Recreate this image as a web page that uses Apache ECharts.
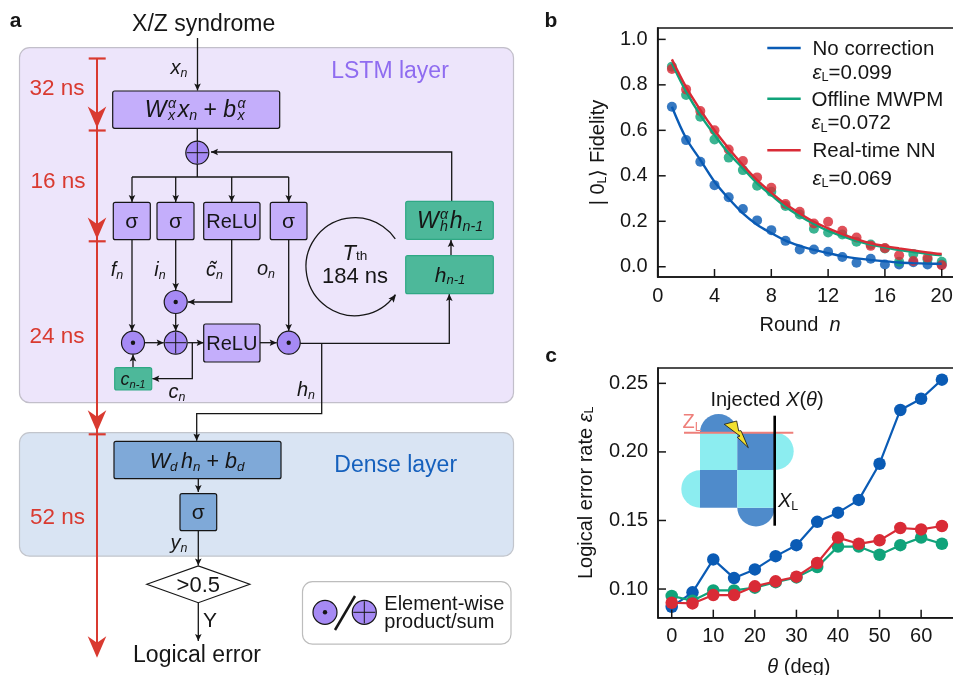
<!DOCTYPE html>
<html>
<head>
<meta charset="utf-8">
<style>html,body{margin:0;padding:0;background:#fff}#main{width:953px;height:675px}</style>
<script src="https://cdn.jsdelivr.net/npm/echarts@6/dist/echarts.min.js"></script>
</head>
<body>
<div id="main"></div>
<script>
// panel b
var rounds = [1,2,3,4,5,6,7,8,9,10,11,12,13,14,15,16,17,18,19,20];
var noCorrDots = [.704,.557,.462,.359,.306,.254,.204,.161,.114,.076,.076,.066,.043,.018,.035,.010,.010,.020,.010,.010];
var mwpmDots = [.88,.755,.66,.56,.48,.425,.356,.33,.267,.23,.167,.151,.142,.11,.098,.08,.022,.056,.032,.022];
var nnDots = [.87,.78,.685,.60,.516,.465,.393,.347,.276,.242,.19,.198,.158,.129,.092,.082,.051,.025,.04,.007];
var noCorrFit = [.704,.565,.47,.374,.30,.235,.185,.148,.115,.092,.074,.06,.047,.037,.03,.024,.019,.016,.014,.013];
var mwpmFit = [.895,.77,.667,.58,.499,.433,.367,.315,.264,.223,.188,.158,.135,.114,.098,.085,.073,.065,.057,.05];
var nnFit = [.912,.79,.69,.60,.52,.447,.381,.326,.276,.235,.198,.169,.144,.122,.103,.091,.081,.072,.063,.056];
var roundTicks = [0,4,8,12,16,20];
var fidelityTicks = [0,.2,.4,.6,.8,1];

// panel c
var angles = [0,5,10,15,20,25,30,35,40,45,50,55,60,65];
var noCorrErr = [.087,.0976,.1216,.108,.1143,.124,.132,.149,.1557,.165,.1914,.2306,.2388,.2527];
var mwpmErr = [.095,.0915,.099,.099,.101,.105,.1085,.116,.131,.131,.125,.132,.1375,.133];
var nnErr = [.090,.0895,.0956,.0956,.102,.1056,.109,.119,.1375,.133,.1355,.1445,.1435,.146];
var angleTicks = [0,10,20,30,40,50,60];
var errTicks = [.10,.15,.20,.25];

var BLUE = '#0A5BB5', GREEN = '#10A37A', RED = '#D92B36';
var FONT = '"Liberation Sans", Arial, sans-serif';
var INK = '#161616';
var ARROW_RED = '#D93A30';

var measure = document.createElement('canvas').getContext('2d');

function pairs(xs, ys) {
  return xs.map(function (x, i) { return [x, ys[i]]; });
}

// text made of pieces: normal '', italic 'i', italic sub 'b', upright sub 's', italic sup 'p'
// 'z' is an italic sub that doesn't advance, so a sup can sit over it; 't' is small upright on the baseline
function label(x, y, parts, size, opts) {
  opts = opts || {};
  var color = opts.color || INK;
  var pieces = [], w = 0;
  parts.forEach(function (p) {
    var kind = p[1] || '';
    var small = kind !== '' && kind !== 'i';
    var fs = small ? size * .62 : size;
    var italic = kind !== '' && kind !== 's' && kind !== 't';
    var font = (italic ? 'italic ' : '') + (opts.bold ? 'bold ' : '') + fs + 'px ' + FONT;
    measure.font = font;
    var pw = measure.measureText(p[0]).width;
    var dy = kind === 'p' ? -size * .4 : (kind === 't' ? 0 : (small ? size * .14 : 0));
    if (kind === 'z') w += 1.5;
    pieces.push({ text: p[0], font: font, fs: fs, left: w, dy: dy });
    if (kind !== 'z') w += pw;
    if (kind === 'p') w += 1.5;
  });
  var start = opts.left ? 0 : -w / 2;
  var base = size * .35;
  return {
    type: 'group', x: x, y: y, rotation: opts.rotation || 0, z: 20,
    children: pieces.map(function (p) {
      return {
        type: 'text', x: start + p.left, y: base + p.dy - p.fs * .27, z: 20,
        style: { text: p.text, font: p.font, fill: color, align: 'left', verticalAlign: 'middle' }
      };
    })
  };
}

function line(pts, color, width) {
  return { type: 'polyline', z: 5, shape: { points: pts }, style: { stroke: color || INK, lineWidth: width || 1.3, fill: null } };
}

function head(x, y, dx, dy, len, half, color, notch) {
  var bx = x - dx * len, by = y - dy * len;
  var nx = x - dx * len * (notch || .8), ny = y - dy * len * (notch || .8);
  return {
    type: 'polygon', z: 6,
    shape: { points: [[x, y], [bx - dy * half, by + dx * half], [nx, ny], [bx + dy * half, by - dx * half]] },
    style: { fill: color || INK }
  };
}

function arrow(pts) {
  var a = pts[pts.length - 2], b = pts[pts.length - 1];
  var d = Math.sqrt((b[0] - a[0]) * (b[0] - a[0]) + (b[1] - a[1]) * (b[1] - a[1]));
  return [line(pts), head(b[0], b[1], (b[0] - a[0]) / d, (b[1] - a[1]) / d, 7, 3.3)];
}

function box(x1, y1, x2, y2, fill, stroke, r) {
  return {
    type: 'rect', z: 7, shape: { x: x1, y: y1, width: x2 - x1, height: y2 - y1, r: r === undefined ? 2 : r },
    style: { fill: fill, stroke: stroke || INK, lineWidth: 1.2 }
  };
}

function node(x, y, kind, r) {
  r = r || 11.5;
  var out = [{ type: 'circle', z: 7, shape: { cx: x, cy: y, r: r }, style: { fill: '#A68AF4', stroke: INK, lineWidth: 1.2 } }];
  if (kind === 'dot') {
    out.push({ type: 'circle', z: 8, shape: { cx: x, cy: y, r: 2.2 }, style: { fill: INK } });
  } else {
    out.push({ type: 'line', z: 8, shape: { x1: x - r + 1, y1: y, x2: x + r - 1, y2: y }, style: { stroke: INK, lineWidth: 1 } });
    out.push({ type: 'line', z: 8, shape: { x1: x, y1: y - r + 1, x2: x, y2: y + r - 1 }, style: { stroke: INK, lineWidth: 1 } });
  }
  return out;
}

var LILAC = '#C4AEFB', TEAL = '#4DB89A', TEAL_EDGE = '#2FA884', STEEL = '#7FA9D8';
var LIGHT = '#8CEDF0', DARK = '#4F8BCB';

function diagram() {
  var g = [];
  function add(x) { g = g.concat(x); }

  // layer panels
  add([
    { type: 'rect', z: 1, shape: { x: 19.5, y: 47.7, width: 494, height: 355, r: 10 }, style: { fill: '#EDE5FB', stroke: '#C2BFCA', lineWidth: 1.2 } },
    { type: 'rect', z: 1, shape: { x: 19.5, y: 432.7, width: 494, height: 123.5, r: 10 }, style: { fill: '#D9E4F3', stroke: '#C2C5CC', lineWidth: 1.2 } },
    { type: 'rect', z: 1, shape: { x: 302.5, y: 581.7, width: 208.5, height: 62.5, r: 10 }, style: { fill: '#fff', stroke: '#BDBDBD', lineWidth: 1.2 } }
  ]);

  // red timeline
  add(line([[97, 58], [97, 650]], ARROW_RED, 2));
  [58.5, 130.5, 241.3, 434.3].forEach(function (y) {
    add(line([[88.7, y], [105.7, y]], ARROW_RED, 2.2));
  });
  [128, 239, 431.7, 657.7].forEach(function (y) {
    add(head(97, y, 0, 1, 21.5, 9.3, ARROW_RED, .7));
  });
  add(label(57, 87, [['32 ns']], 22.5, { color: ARROW_RED }));
  add(label(58, 180, [['16 ns']], 22.5, { color: ARROW_RED }));
  add(label(57, 335, [['24 ns']], 22.5, { color: ARROW_RED }));
  add(label(57.5, 516, [['52 ns']], 22.5, { color: ARROW_RED }));

  add(label(15.5, 20, [['a']], 21, { bold: true }));
  add(label(551, 20, [['b']], 21, { bold: true }));
  add(label(551, 355, [['c']], 21, { bold: true }));

  add(label(203.7, 23, [['X/Z syndrome']], 23));
  add(label(390, 70, [['LSTM layer']], 23, { color: '#8F6CF0' }));
  add(label(395.7, 464.3, [['Dense layer']], 23, { color: '#1560BD' }));

  // input
  add(arrow([[197.5, 38], [197.5, 90.5]]));
  add(label(179, 67, [['x', 'i'], ['n', 'b']], 20));
  add(box(112.7, 91, 279.7, 128.3, LILAC));
  add(label(196, 109, [['W', 'i'], ['x', 'z'], ['α', 'p'], ['x', 'i'], ['n', 'b'], [' + '], ['b', 'i'], ['x', 'z'], ['α', 'p']], 23));

  add(line([[197.3, 128.3], [197.3, 177]]));
  add(node(197.3, 152.7, 'plus'));
  add(line([[132, 177], [288.7, 177]]));
  add(arrow([[132, 177], [132, 202]]));
  add(arrow([[175.7, 177], [175.7, 202]]));
  add(arrow([[231.7, 177], [231.7, 202]]));
  add(arrow([[288.7, 177], [288.7, 202]]));

  // gates
  add(box(113.3, 202.3, 150.3, 239.7, LILAC));
  add(box(157, 202.3, 194, 239.7, LILAC));
  add(box(203.7, 202.3, 260, 239.7, LILAC));
  add(box(270.3, 202.3, 307, 239.7, LILAC));
  add(label(131.8, 220.5, [['σ']], 21));
  add(label(175.5, 220.5, [['σ']], 21));
  add(label(231.8, 220.5, [['ReLU']], 20));
  add(label(288.6, 220.5, [['σ']], 21));

  add(label(117, 269, [['f', 'i'], ['n', 'b']], 20));
  add(label(160, 269, [['i', 'i'], ['n', 'b']], 20));
  add(label(214.5, 269, [['c\u0303', 'i'], ['n', 'b']], 20));
  add(label(266, 268, [['o', 'i'], ['n', 'b']], 20));

  // feedback and memory
  add(arrow([[451.7, 201.3], [451.7, 152], [211, 152]]));
  add(box(405.7, 201.3, 493.3, 239.3, TEAL, TEAL_EDGE));
  add(box(405.7, 255.7, 493.3, 293.7, TEAL, TEAL_EDGE));
  add(arrow([[451, 255.7], [451, 240]]));
  add(label(450, 220, [['W', 'i'], ['h', 'z'], ['α', 'p'], ['h', 'i'], ['n-1', 'b']], 23));
  add(label(450, 274, [['h', 'i'], ['n-1', 'b']], 21));
  add({
    type: 'arc', z: 5,
    shape: { cx: 355, cy: 266.7, r: 49, startAngle: 34.8 * Math.PI / 180, endAngle: -34.7 * Math.PI / 180, clockwise: true },
    style: { stroke: INK, lineWidth: 1.3, fill: null }
  });
  add(head(396, 294.5, .62, -.78, 8, 3.4));
  add(label(355, 252, [['T', 'i'], ['th', 't']], 22));
  add(label(355, 275, [['184 ns']], 22));

  // product/sum row
  add(arrow([[175.7, 239.7], [175.7, 290]]));
  add(arrow([[231.7, 239.7], [231.7, 302], [188, 302]]));
  add(node(175.7, 302, 'dot'));
  add(arrow([[175.7, 313.5], [175.7, 331]]));
  add(arrow([[132, 239.7], [132, 331]]));
  add(arrow([[288.7, 239.7], [288.7, 331]]));
  add(arrow([[144.5, 342.7], [163.7, 342.7]]));
  add(arrow([[187.7, 342.7], [203.7, 342.7]]));
  add(arrow([[260, 342.7], [276.7, 342.7]]));
  add(node(133, 342.7, 'dot'));
  add(node(175.7, 342.7, 'plus'));
  add(node(288.7, 342.7, 'dot'));
  add(box(203.7, 324, 260, 362, LILAC));
  add(label(231.8, 343, [['ReLU']], 20));
  add(arrow([[192.3, 342.7], [192.3, 378.7], [152.3, 378.7]]));
  add(box(114.7, 367.7, 151.7, 390, TEAL, TEAL_EDGE));
  add(label(133, 379, [['c', 'i'], ['n-1', 'b']], 18));
  add(arrow([[133, 367.7], [133, 354.5]]));
  add(label(177, 390.7, [['c', 'i'], ['n', 'b']], 20));
  add(label(306, 389, [['h', 'i'], ['n', 'b']], 20));
  add(arrow([[300.2, 343.3], [449.3, 343.3], [449.3, 294]]));
  add(arrow([[321.7, 343.3], [321.7, 413.7], [196.7, 413.7], [196.7, 440.7]]));

  // dense layer
  add(box(114, 441.3, 281, 478.7, STEEL));
  add(label(197, 460, [['W', 'i'], ['d', 'b'], [' ', 's'], ['h', 'i'], ['n', 'b'], [' + '], ['b', 'i'], ['d', 'b']], 21.5));
  add(arrow([[198.3, 478.7], [198.3, 492]]));
  add(box(180, 493.7, 216.7, 530.7, STEEL));
  add(label(198.3, 512, [['σ']], 21));
  add(arrow([[198.3, 530.7], [198.3, 565.5]]));
  add(label(179, 542, [['y', 'i'], ['n', 'b']], 20));
  add({
    type: 'polygon', z: 7, shape: { points: [[146.8, 584.3], [198.3, 566], [249.8, 584.3], [198.3, 602.7]] },
    style: { fill: '#fff', stroke: INK, lineWidth: 1.2 }
  });
  add(label(198.3, 584.5, [['>0.5']], 22));
  add(arrow([[198.3, 602.7], [198.3, 641]]));
  add(label(210, 620, [['Y']], 21));
  add(label(197, 654, [['Logical error']], 23));

  // key
  add(node(325, 612.3, 'dot', 12));
  add(line([[335, 630], [355, 596]], INK, 2.5));
  add(node(364.3, 612.3, 'plus', 12));
  add(label(384.3, 602.7, [['Element-wise']], 20, { left: true }));
  add(label(384.3, 621, [['product/sum']], 20, { left: true }));

  // legend of panel b
  [[48, BLUE], [98.7, GREEN], [150.3, RED]].forEach(function (k) {
    add(line([[767.3, k[0]], [800.7, k[0]]], k[1], 2.4));
  });
  add(label(812.5, 48, [['No correction']], 20.5, { left: true }));
  add(label(812.5, 71.3, [['ε', 'i'], ['L', 's'], ['=0.099']], 20.5, { left: true }));
  add(label(811.5, 98.7, [['Offline MWPM']], 20.5, { left: true }));
  add(label(811.5, 121.7, [['ε', 'i'], ['L', 's'], ['=0.072']], 20.5, { left: true }));
  add(label(812.5, 150, [['Real-time NN']], 20.5, { left: true }));
  add(label(812.5, 177.3, [['ε', 'i'], ['L', 's'], ['=0.069']], 20.5, { left: true }));

  // inset of panel c
  function cell(x1, y1, x2, y2, fill) {
    return { type: 'rect', z: 2, shape: { x: x1, y: y1, width: x2 - x1, height: y2 - y1 }, style: { fill: fill } };
  }
  function cap(cx, cy, from, fill) {
    return { type: 'sector', z: 2, shape: { cx: cx, cy: cy, r: 18.7, r0: 0, startAngle: from, endAngle: from + Math.PI, clockwise: true }, style: { fill: fill } };
  }
  add([
    cap(718.6, 432.7, Math.PI, DARK),
    cap(775, 451.3, -Math.PI / 2, LIGHT),
    cap(700, 489, Math.PI / 2, LIGHT),
    cap(756, 507.7, 0, DARK),
    cell(700, 432.7, 737.3, 470, LIGHT),
    cell(737.3, 432.7, 775, 470, DARK),
    cell(700, 470, 737.3, 507.7, DARK),
    cell(737.3, 470, 775, 507.7, LIGHT)
  ]);
  add(line([[684, 432.7], [793.3, 432.7]], '#EE7F7A', 2));
  add(line([[774.7, 415.7], [774.7, 525.7]], '#000', 2.6));
  add({
    type: 'polygon', z: 6,
    shape: { points: [[724.3, 424.3], [736.7, 421], [738.7, 431], [741, 430.7], [748.3, 447.7], [737.3, 437.3], [740, 436], [724.3, 424.3]] },
    style: { fill: '#F3E030', stroke: '#111', lineWidth: .8 }
  });
  add(label(767, 399, [['Injected '], ['X', 'i'], ['('], ['θ', 'i'], [')']], 20));
  add(label(692, 421, [['Z'], ['L', 's']], 20, { color: '#EE7F7A' }));
  add(label(788, 500, [['X', 'i'], ['L', 's']], 20));

  return g;
}

var axisFrame = { show: true, onZero: false, lineStyle: { color: INK, width: 1.6 } };

function dots(name, data, color, xi) {
  return {
    name: name, type: 'scatter', xAxisIndex: xi, yAxisIndex: xi, data: data, symbolSize: 10, z: 3,
    itemStyle: { color: color, opacity: .82 }, silent: true
  };
}
function fit(name, data, color) {
  return {
    name: name, type: 'line', xAxisIndex: 0, yAxisIndex: 0, data: data, smooth: .35, showSymbol: false, z: 4,
    lineStyle: { color: color, width: 2.4 }, silent: true
  };
}
function sweep(name, data, color, z) {
  return {
    name: name, type: 'line', xAxisIndex: 1, yAxisIndex: 1, data: data, symbol: 'circle', symbolSize: 12.5, z: z,
    lineStyle: { color: color, width: 2.2 }, itemStyle: { color: color }, silent: true
  };
}

var nameRich = {
  a: { fontFamily: FONT, fontSize: 20, color: INK },
  i: { fontFamily: FONT, fontSize: 20, color: INK, fontStyle: 'italic' },
  s: { fontFamily: FONT, fontSize: 12.5, color: INK, verticalAlign: 'bottom', lineHeight: 20 }
};

var option = {
  animation: false,
  backgroundColor: '#fff',
  grid: [
    { left: 657.7, top: 28, width: 296.8, height: 249, show: true, borderColor: INK, borderWidth: 1.6, containLabel: false, outerBoundsMode: 'none' },
    { left: 658, top: 368, width: 296.8, height: 249.7, show: true, borderColor: INK, borderWidth: 1.6, containLabel: false, outerBoundsMode: 'none' }
  ],
  xAxis: [
    {
      type: 'value', gridIndex: 0, min: 0, max: 20.9, splitLine: { show: false },
      axisLine: axisFrame, axisTick: { show: false },
      axisLabel: { customValues: roundTicks, fontFamily: FONT, fontSize: 20, color: INK, margin: 9 },
      name: '{a|Round  }{i|n}', nameLocation: 'middle', nameGap: 38, nameTextStyle: { rich: nameRich, padding: [0, 12, 0, 0] }
    },
    {
      type: 'value', gridIndex: 1, min: -3.3, max: 68.1, splitLine: { show: false },
      axisLine: axisFrame, axisTick: { show: false },
      axisLabel: { customValues: angleTicks, fontFamily: FONT, fontSize: 20, color: INK, margin: 9 },
      name: '{i|θ}{a| (deg)}', nameLocation: 'middle', nameGap: 40, nameTextStyle: { rich: nameRich, padding: [0, 15, 0, 0] }
    }
  ],
  yAxis: [
    {
      type: 'value', gridIndex: 0, min: -.045, max: 1.05, splitLine: { show: false },
      axisLine: axisFrame, axisTick: { show: false },
      axisLabel: {
        customValues: fidelityTicks, fontFamily: FONT, fontSize: 20, color: INK, margin: 10, padding: [3, 0, 0, 0],
        formatter: function (v) { return v.toFixed(1); }
      },
      name: '{a|| 0}{s|L}{a|\u27E9 Fidelity}', nameLocation: 'middle', nameGap: 49, nameTextStyle: { rich: nameRich }
    },
    {
      type: 'value', gridIndex: 1, min: .0791, max: .2612, splitLine: { show: false },
      axisLine: axisFrame, axisTick: { show: false },
      axisLabel: {
        customValues: errTicks, fontFamily: FONT, fontSize: 20, color: INK, margin: 10, padding: [3, 0, 0, 0],
        formatter: function (v) { return v.toFixed(2); }
      },
      name: '{a|Logical error rate }{i|ε}{s|L}', nameLocation: 'middle', nameGap: 62, nameTextStyle: { rich: nameRich }
    }
  ],
  series: [
    dots('No correction', pairs(rounds, noCorrDots), BLUE, 0),
    dots('Offline MWPM', pairs(rounds, mwpmDots), GREEN, 0),
    dots('Real-time NN', pairs(rounds, nnDots), RED, 0),
    fit('No correction fit', pairs(rounds, noCorrFit), BLUE),
    fit('Offline MWPM fit', pairs(rounds, mwpmFit), GREEN),
    fit('Real-time NN fit', pairs(rounds, nnFit), RED),
    sweep('No correction', pairs(angles, noCorrErr), BLUE, 3),
    sweep('Offline MWPM', pairs(angles, mwpmErr), GREEN, 4),
    sweep('Real-time NN', pairs(angles, nnErr), RED, 5)
  ]
};

var chart = echarts.init(document.getElementById('main'));
chart.setOption(option);

// inward tick marks, placed with the axes' own scales once they exist
function tickMarks(gridIndex, xs, ys, xMin, yMin) {
  var out = [];
  xs.forEach(function (v) {
    var p = chart.convertToPixel({ gridIndex: gridIndex }, [v, yMin]);
    out.push(line([[p[0], p[1]], [p[0], p[1] - 8]], INK, 1.5));
  });
  ys.forEach(function (v) {
    var p = chart.convertToPixel({ gridIndex: gridIndex }, [xMin, v]);
    out.push(line([[p[0], p[1]], [p[0] + 8, p[1]]], INK, 1.5));
  });
  return out;
}

chart.setOption({
  graphic: {
    elements: diagram()
      .concat(tickMarks(0, roundTicks, fidelityTicks, 0, -.045))
      .concat(tickMarks(1, angleTicks, errTicks, -3.3, .0791))
  }
});
</script>
</body>
</html>
